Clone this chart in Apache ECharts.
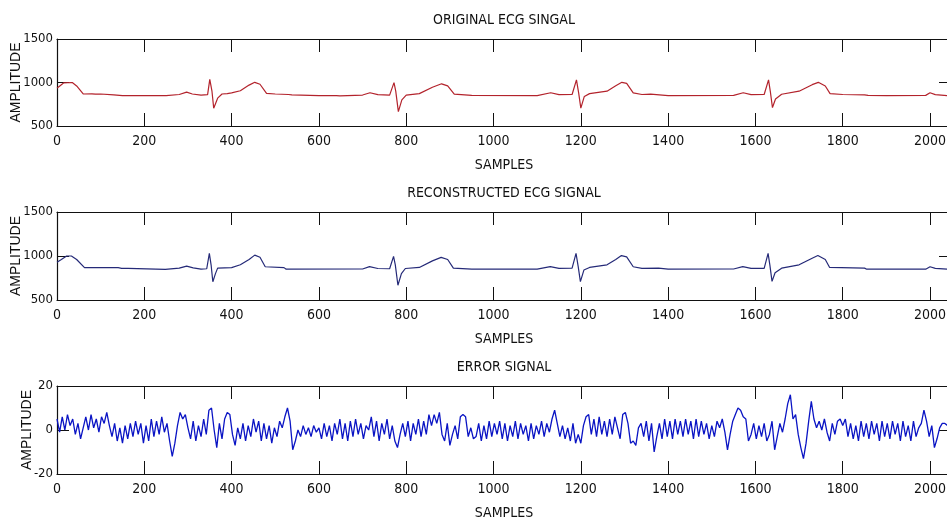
<!DOCTYPE html>
<html>
<head>
<meta charset="utf-8">
<script src="https://cdn.jsdelivr.net/npm/echarts@6/dist/echarts.min.js"></script>
<style>
  html, body { margin: 0; padding: 0; background: #fff; }
  #chart { width: 947px; height: 527px; }
</style>
</head>
<body>
<div id="chart"></div>
<script>
// x axis (samples)
const sampleMax = 2048;
const sampleStep = 200;

// titles
const titles = ['ORIGINAL ECG SINGAL', 'RECONSTRUCTED ECG SIGNAL', 'ERROR SIGNAL'];

// original ECG, breakpoints
const origIdx = [0, 5, 15, 35, 45, 60, 80, 84, 88, 100, 130, 150, 180, 184, 188, 250, 280, 297, 310, 330,
  345, 350, 355, 359, 368, 378, 390, 400, 420, 440, 453, 465, 480, 500, 530, 534, 538, 600, 640, 644,
  648, 700, 717, 735, 762, 772, 776, 782, 790, 800, 830, 860, 881, 895, 910, 950, 1100, 1131, 1150, 1180,
  1190, 1195, 1200, 1208, 1220, 1260, 1280, 1294, 1305, 1320, 1340, 1360, 1364, 1400, 1550, 1572, 1590, 1620, 1630, 1634,
  1639, 1646, 1660, 1700, 1730, 1744, 1760, 1771, 1800, 1850, 1854, 1858, 1900, 1990, 2000, 2012, 2040];
const origVal = [935, 955, 995, 1000, 960, 868, 870, 878, 866, 868, 858, 850, 850, 858, 848, 850, 862, 890, 868, 855,
  860, 1035, 900, 705, 820, 868, 872, 880, 905, 970, 1002, 980, 875, 868, 862, 870, 858, 850, 850, 858,
  846, 856, 882, 860, 855, 998, 900, 665, 800, 855, 872, 945, 985, 962, 866, 852, 850, 882, 860, 862,
  1030, 880, 705, 840, 872, 900, 962, 1002, 990, 880, 862, 866, 856, 850, 852, 882, 860, 862, 1030, 900,
  712, 810, 865, 900, 975, 1002, 960, 872, 862, 858, 866, 852, 850, 852, 882, 860, 848];

// reconstructed ECG, middle panel
const recIdx = [0, 10, 22, 33, 45, 63, 140, 148, 163, 167, 248, 252, 280, 297, 312, 330, 343, 349, 353, 357,
  363, 368, 400, 420, 440, 453, 465, 477, 520, 525, 700, 716, 735, 762, 771, 775, 781, 789, 798, 830,
  860, 880, 895, 908, 950, 1100, 1130, 1150, 1180, 1189, 1194, 1199, 1207, 1220, 1260, 1280, 1293, 1305, 1320, 1340,
  1378, 1382, 1400, 1550, 1571, 1590, 1620, 1629, 1633, 1638, 1645, 1660, 1700, 1730, 1743, 1760, 1770, 1850, 1855, 1990,
  2000, 2012, 2040];
const recVal = [930, 960, 1000, 1000, 960, 867, 867, 860, 860, 848, 848, 860, 862, 885, 865, 850, 855, 1030, 900, 708,
  800, 862, 868, 900, 960, 1010, 985, 878, 868, 850, 852, 880, 858, 855, 995, 900, 668, 800, 858, 870,
  945, 985, 960, 862, 850, 850, 880, 860, 862, 1030, 880, 708, 840, 870, 900, 960, 1005, 990, 878, 860,
  862, 854, 850, 852, 880, 860, 860, 1030, 900, 712, 810, 862, 900, 975, 1005, 960, 870, 862, 850, 850,
  878, 860, 850];

// error signal, one value every errStep samples
const errStep = 6;
const errVal = [
  5, -1, 6, 0, 7, 2, 5, -2, 3, -4,
  1, 6, 0, 7, 1, 5, -1, 6, 3, 8,
  2, -3, 3, -5, 1, -6, 2, -4, 3, -3,
  4, -2, 3, -6, 2, -5, 5, -3, 4, -2,
  6, -1, 3, -5, -12, -6, 2, 8, 5, 7,
  1, -4, 4, -5, 2, -3, 5, -2, 9, 10,
  0, -8, 3, -4, 5, 8, 7, -2, -7, 1,
  -4, 3, -5, 2, -3, 5, -1, 4, -5, 3,
  -4, 2, -6, 1, -3, 4, 1, 6, 10, 4,
  -9, -5, 0, -3, 2, -2, 1, -3, 2, -1,
  1, -4, 3, -3, 2, -5, 3, -2, 5, -4,
  3, -5, 4, -3, 5, -2, 3, -4, 2, 0,
  6, -3, 4, -5, 3, -2, 5, -4, 2, -5,
  -8, -2, 3, -3, 4, -5, 3, -2, 5, -3,
  4, -2, 7, 2, 7, 3, 8, -2, -5, 3,
  -7, -2, 2, -4, 6, 7, 6, -3, 1, -4,
  -3, 3, -5, 2, -4, 4, -3, 3, -2, 4,
  -4, 3, -5, 2, -3, 4, -4, 3, -2, 2,
  -5, 3, -4, 2, -2, 4, -3, 3, -1, 5,
  9, 3, -3, 2, -4, 1, -5, 3, -6, -2,
  -6, 2, 6, 7, -2, 5, -3, 6, -2, 4,
  -3, 5, -2, 6, 1, -4, 7, 8, 3, -6,
  -5, -7, 1, 3, -3, 4, -5, 3, -10, -3,
  3, -4, 5, -3, 4, -4, 5, -2, 4, -3,
  5, -2, 4, -4, 5, -3, 4, -2, 3, -4,
  2, -3, 4, 1, 5, -1, -9, -2, 4, 7,
  10, 9, 6, 5, -5, -2, 3, -4, 2, -3,
  3, -5, -2, 4, -9, -3, 3, -1, 5, 12,
  16, 5, 7, -2, -8, -13, -6, 4, 13, 5,
  1, 4, 0, 5, -1, -5, 3, -2, 4, 5,
  2, 5, -3, 3, -4, 2, -5, 4, -3, 3,
  -4, 4, -2, 3, -5, 4, -3, 3, -4, 4,
  -2, 3, -5, 4, -3, 2, -5, 4, -3, 1,
  3, 9, 4, -3, 2, -8, -4, 1, 3, 3,
  2
];

// y axis ranges per panel
const yRanges = [[500, 1500, 500], [500, 1500, 500], [-20, 20, 20]];

const chart = echarts.init(document.getElementById('chart'), null, { renderer: 'canvas' });

const narrow = "'Liberation Sans Narrow', 'DejaVu Sans Condensed', sans-serif";
const plain = (v) => String(v);
const grids = [
  { left: 57, right: -4, top: 39, height: 87, outerBoundsMode: 'none', containLabel: false },
  { left: 57, right: -4, top: 212, height: 88, outerBoundsMode: 'none', containLabel: false },
  { left: 57, right: -4, top: 386, height: 88, outerBoundsMode: 'none', containLabel: false }
];

const xAxes = [];
const yAxes = [];
grids.forEach((g, i) => {
  xAxes.push({
    type: 'value', gridIndex: i, position: 'bottom',
    min: 0, max: sampleMax, interval: sampleStep,
    name: 'SAMPLES', nameLocation: 'middle', nameGap: 32, nameMoveOverlap: false,
    nameTextStyle: { fontFamily: narrow, fontSize: 14, color: '#111' },
    axisLine: { show: true, onZero: false, lineStyle: { color: '#111', width: 1.2 } },
    axisTick: { show: true, inside: true, length: 13, lineStyle: { color: '#111' } },
    axisLabel: { show: true, showMaxLabel: false, margin: 8, fontFamily: narrow, fontSize: 14, color: '#111', formatter: plain },
    splitLine: { show: false }
  });
  xAxes.push({
    type: 'value', gridIndex: i, position: 'top',
    min: 0, max: sampleMax, interval: sampleStep,
    name: titles[i], nameLocation: 'middle', nameGap: 12, nameMoveOverlap: false,
    nameTextStyle: { fontFamily: narrow, fontSize: 14, color: '#111' },
    axisLine: { show: true, onZero: false, lineStyle: { color: '#111', width: 1.2 } },
    axisTick: { show: true, inside: true, length: 13, lineStyle: { color: '#111' } },
    axisLabel: { show: false },
    splitLine: { show: false }
  });
  const r = yRanges[i];
  yAxes.push({
    type: 'value', gridIndex: i, position: 'left',
    min: r[0], max: r[1], interval: r[2],
    name: 'AMPLITUDE', nameLocation: 'middle', nameGap: i === 2 ? 23 : 34, nameMoveOverlap: false,
    nameTextStyle: { fontFamily: "'Liberation Sans', Arial, sans-serif", fontSize: 14, color: '#111' },
    axisLine: { show: true, onZero: false, lineStyle: { color: '#111', width: 1.2 } },
    axisTick: { show: true, inside: true, length: 12, lineStyle: { color: '#111' } },
    axisLabel: { show: true, margin: 4, fontFamily: narrow, fontSize: 13, color: '#111', formatter: plain },
    splitLine: { show: false }
  });
  yAxes.push({
    type: 'value', gridIndex: i, position: 'right',
    min: r[0], max: r[1], interval: r[2],
    axisLine: { show: true, onZero: false, lineStyle: { color: '#111', width: 1.2 } },
    axisTick: { show: true, inside: true, length: 12, lineStyle: { color: '#111' } },
    axisLabel: { show: false },
    splitLine: { show: false }
  });
});

const option = {
  animation: false,
  backgroundColor: '#fff',
  grid: grids,
  xAxis: xAxes,
  yAxis: yAxes,
  series: [
    {
      name: 'original', type: 'line', xAxisIndex: 0, yAxisIndex: 0,
      showSymbol: false, color: '#b3232c', lineStyle: { width: 1.2 },
      data: origIdx.map((s, k) => [s, origVal[k]])
    },
    {
      name: 'reconstructed', type: 'line', xAxisIndex: 2, yAxisIndex: 2,
      showSymbol: false, color: '#252a78', lineStyle: { width: 1.2 },
      data: recIdx.map((s, k) => [s, recVal[k]])
    },
    {
      name: 'error', type: 'line', xAxisIndex: 4, yAxisIndex: 4,
      showSymbol: false, color: '#0a14c4', lineStyle: { width: 1.3 },
      data: errVal.map((v, k) => [k * errStep, v])
    }
  ]
};

chart.setOption(option);
</script>
</body>
</html>
